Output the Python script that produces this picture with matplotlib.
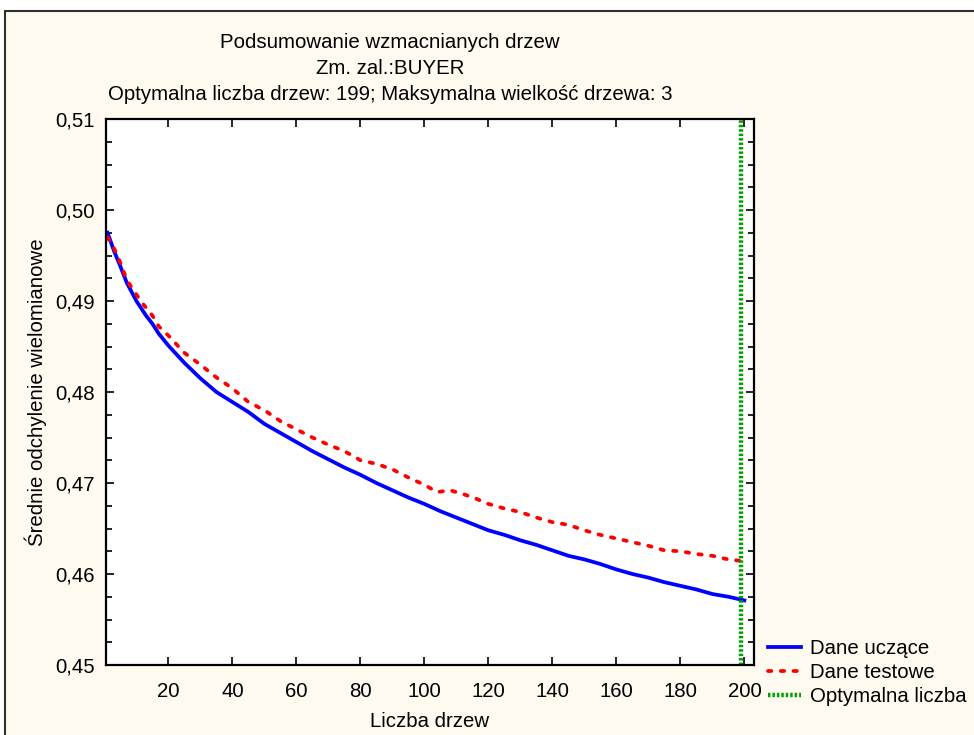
import matplotlib
matplotlib.use('Agg')
import matplotlib.pyplot as plt
from matplotlib.ticker import FuncFormatter, MultipleLocator
from matplotlib.patches import Rectangle

plt.rcParams['font.family'] = ['Liberation Sans', 'DejaVu Sans']

# dane
liczba_uczace = [1, 3, 5, 7, 10, 13, 15, 17, 20, 25, 30, 35, 40, 45, 50, 55, 60, 65, 70, 75,
                 80, 85, 90, 95, 100, 105, 110, 115, 120, 125, 130, 135, 140, 145, 150, 155,
                 160, 165, 170, 175, 180, 185, 190, 195, 200]
dane_uczace = [0.4975, 0.4955, 0.4938, 0.4920, 0.4900, 0.4884, 0.4875, 0.4864, 0.4851, 0.4832,
               0.4815, 0.4800, 0.4789, 0.4778, 0.4765, 0.4755, 0.4745, 0.4735, 0.4726, 0.4717,
               0.4709, 0.4700, 0.4692, 0.4684, 0.4677, 0.4669, 0.4662, 0.4655, 0.4648, 0.4643,
               0.4637, 0.4632, 0.4626, 0.4620, 0.4616, 0.4611, 0.4605, 0.4600, 0.4596, 0.4591,
               0.4587, 0.4583, 0.4578, 0.4575, 0.4571]

liczba_testowe = [1, 3, 5, 7, 10, 12, 15, 17, 20, 25, 30, 35, 40, 45, 50, 55, 60, 65, 70, 75,
                  80, 85, 90, 95, 100, 104, 108, 112, 116, 120, 125, 130, 135, 140, 145, 150,
                  155, 160, 165, 170, 175, 180, 185, 190, 195, 200]
dane_testowe = [0.4970, 0.4958, 0.4942, 0.4923, 0.4907, 0.4897, 0.4884, 0.4872, 0.4862, 0.4843,
                0.4830, 0.4816, 0.4804, 0.4789, 0.4780, 0.4768, 0.4759, 0.4750, 0.4742, 0.4735,
                0.4725, 0.4721, 0.4715, 0.4706, 0.4698, 0.4690, 0.4692, 0.4688, 0.4683, 0.4677,
                0.4672, 0.4668, 0.4662, 0.4657, 0.4654, 0.4648, 0.4643, 0.4639, 0.4635, 0.4631,
                0.4626, 0.4625, 0.4622, 0.4620, 0.4616, 0.4614]

optymalna = 199
x_ticks = [20, 40, 60, 80, 100, 120, 140, 160, 180, 200]
y_ticks = [0.45, 0.46, 0.47, 0.48, 0.49, 0.50, 0.51]

tlo = '#FEFAF0'
fs = 14.7

fig = plt.figure(figsize=(9.74, 7.35), dpi=100)
fig.patch.set_facecolor('white')

# kremowa ramka wokol calego wykresu (pod osiami)
fig.patches.append(Rectangle((5/974, -0.1), 1.2, 1 - 11/735 + 0.1, transform=fig.transFigure,
                             facecolor=tlo, edgecolor='#303030', linewidth=1.5, zorder=-5))

ax = fig.add_axes([106/974, 1 - 665/735, 648/974, 546/735])
ax.set_facecolor('white')

ax.plot(liczba_uczace, dane_uczace, color='#0000FF', linewidth=2.7, label='Dane uczące',
        solid_joinstyle='round')
ax.plot(liczba_testowe, dane_testowe, color='#FF0000', linewidth=2.7,
        linestyle=(0, (0.9, 2.5)), dash_capstyle='round', label='Dane testowe')
ax.axvline(optymalna, color='#00A000', linewidth=3.2, linestyle=(0, (0.55, 0.45)),
           label='Optymalna liczba')

ax.set_xlim(0.5, 203)
ax.set_ylim(0.45, 0.51)
ax.set_xticks(x_ticks)
ax.set_yticks(y_ticks)
ax.yaxis.set_minor_locator(MultipleLocator(0.0025))
ax.yaxis.set_major_formatter(FuncFormatter(lambda v, pos: f'{v:.2f}'.replace('.', ',')))

ax.tick_params(axis='both', which='both', direction='in', top=True, right=True,
               labelsize=fs, width=1.2)
ax.tick_params(axis='both', which='major', length=6)
ax.tick_params(axis='y', which='minor', length=4)
ax.tick_params(axis='y', which='major', pad=8)
ax.tick_params(axis='x', which='major', pad=12)
for s in ax.spines.values():
    s.set_linewidth(1.6)

ax.set_xlabel('Liczba drzew', fontsize=fs, labelpad=8)
ax.set_ylabel('Średnie odchylenie wielomianowe', fontsize=fs, labelpad=6)

# tytul w trzech liniach
fig.text(390/974, 1 - 42/735, 'Podsumowanie wzmacnianych drzew', fontsize=fs, ha='center', va='center')
fig.text(390/974, 1 - 68/735, 'Zm. zal.:BUYER', fontsize=fs, ha='center', va='center')
fig.text(390/974, 1 - 94/735, 'Optymalna liczba drzew: 199; Maksymalna wielkość drzewa: 3',
         fontsize=fs, ha='center', va='center')

fig.legend(loc='upper left', bbox_to_anchor=(768/974, 1 - 639/735), frameon=False,
           fontsize=fs, handlelength=1.6, handletextpad=0.45, labelspacing=0.25,
           borderpad=0, borderaxespad=0)

fig.savefig('out.png', dpi=100, facecolor=fig.get_facecolor())
